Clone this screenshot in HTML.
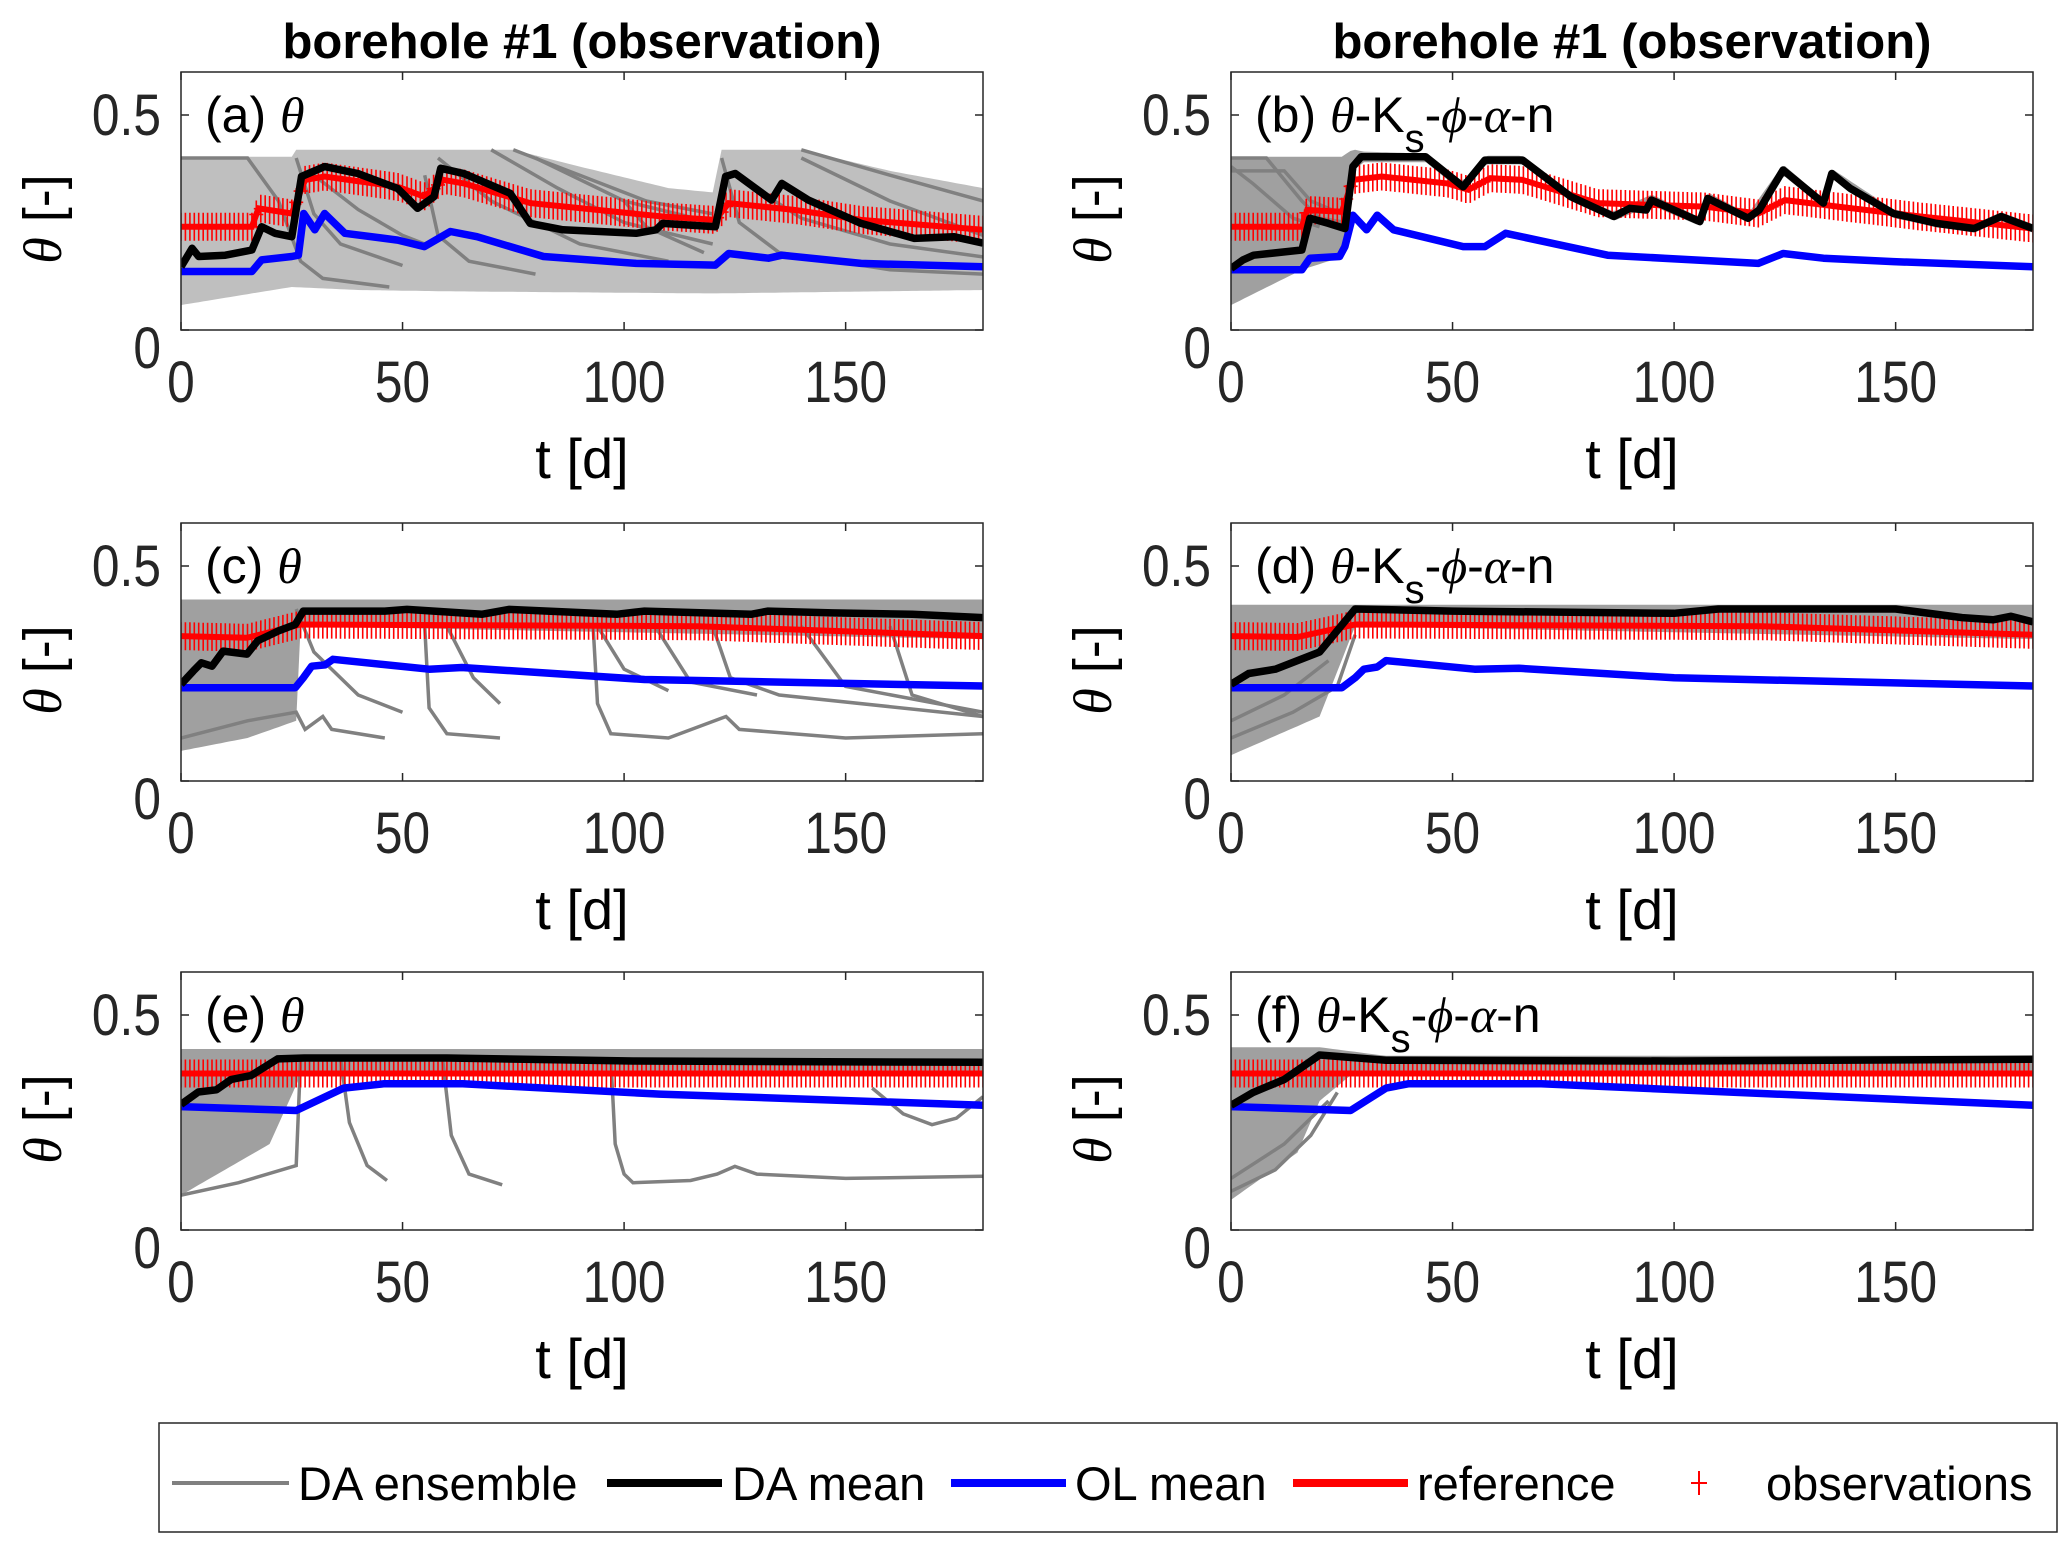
<!DOCTYPE html>
<html><head><meta charset="utf-8"><style>
html,body{margin:0;padding:0;background:#fff}
svg{display:block;font-family:"Liberation Sans",Arial,sans-serif}
</style></head><body>
<svg id="fig" width="2067" height="1548" viewBox="0 0 2067 1548" xmlns="http://www.w3.org/2000/svg"></svg>
<script>
// ---- data (day, theta) ----
const aEnsUpper=[[0,.403],[25,.403],[26,.419],[75,.419],[90,.38],[110,.33],[120,.32],[122,.419],[140,.419],[160,.37],[181,.33]];
const aEnsLower=[[0,.058],[16,.085],[25,.10],[40,.093],[60,.09],[120,.085],[181,.093]];
const aMembers=[
 [[0,.40],[15,.40],[22,.30],[27,.16],[32,.12],[47,.10]],
 [[26,.40],[30,.27],[36,.20],[50,.15]],
 [[55,.36],[58,.22],[65,.16],[80,.13]],
 [[58,.40],[70,.30],[90,.20],[110,.16]],
 [[75,.419],[90,.36],[105,.30],[120,.27]],
 [[70,.419],[85,.33],[100,.25],[120,.20]],
 [[80,.40],[100,.30],[120,.25]],
 [[122,.40],[126,.25],[135,.18],[160,.14],[181,.13]],
 [[140,.419],[160,.36],[181,.30]],
 [[140,.40],[160,.30],[181,.22]],
 [[100,.30],[105,.24],[118,.18]],
 [[30,.36],[40,.28],[50,.22],[55,.20]],
 [[125,.36],[140,.26],[160,.20],[181,.17]]];
const aDaMean=[[0,.147],[2.5,.19],[4,.171],[10,.174],[16,.186],[18.2,.24],[21.2,.225],[25,.217],[27.2,.357],[32.4,.38],[39.9,.364],[48.9,.329],[53.4,.283],[57.1,.31],[58.6,.376],[63.8,.364],[74.3,.318],[78.8,.248],[86.2,.233],[102.7,.225],[107.2,.233],[108.7,.248],[120.6,.24],[122.9,.357],[125.1,.364],[133.3,.302],[135.6,.341],[141.6,.302],[153.5,.248],[165.5,.213],[174.4,.217],[181,.202]];
const aOlMean=[[0,.136],[16,.136],[18.2,.163],[25,.171],[26.5,.174],[27.7,.271],[30.2,.233],[32.4,.271],[37,.225],[48.9,.209],[54.9,.194],[60.8,.229],[66.8,.217],[81.8,.171],[102.7,.155],[120.6,.151],[123.6,.178],[132.6,.167],[135.6,.174],[153.5,.155],[181,.147]];
const aRef=[[0,.24],[16,.24],[17.5,.283],[25,.271],[28,.349],[32.4,.357],[48.9,.333],[54.9,.31],[59.3,.349],[63.8,.341],[78.8,.295],[108.7,.264],[120.6,.256],[123.6,.295],[138.6,.279],[153.5,.256],[181,.233]];

const bEnsUpper=[[0,.403],[25,.403],[27.5,.42],[30,.415],[44,.41],[52.4,.345],[57.3,.405],[65.8,.405],[76.7,.32],[86.4,.275],[94.9,.315],[105.8,.262],[107.6,.32],[116.7,.27],[124.6,.385],[133.7,.305],[135.6,.375],[149.5,.28],[167.7,.246],[173.8,.274],[181,.246]];
const bEnsLower=[[0,.058],[16,.14],[25,.17],[27.5,.37],[30,.39],[44,.39],[52.4,.32],[57.3,.385],[65.8,.385],[76.7,.30],[86.4,.254],[94.9,.29],[105.8,.242],[107.6,.295],[116.7,.25],[124.6,.36],[133.7,.285],[135.6,.352],[149.5,.26],[167.7,.226],[173.8,.254],[181,.226]];
const bMembers=[
 [[0,.40],[8,.40],[16,.30],[20,.26],[26,.25]],
 [[0,.37],[12,.37],[18,.30],[25,.27]],
 [[0,.38],[5,.34],[14,.26],[20,.24]]];
const bDaMean=[[0,.143],[2.7,.163],[5.1,.174],[16,.186],[17.8,.26],[22,.248],[25.7,.236],[27.5,.38],[29.4,.403],[43.9,.403],[52.4,.333],[57.3,.395],[65.8,.395],[76.7,.31],[86.4,.264],[90,.283],[93.7,.279],[94.9,.302],[105.8,.252],[107.6,.306],[116.7,.26],[119.2,.279],[124.6,.372],[133.7,.295],[135.6,.364],[139.8,.329],[149.5,.271],[159.2,.248],[167.7,.236],[173.8,.264],[181,.236]];
const bOlMean=[[0,.14],[16,.14],[17.8,.167],[24.5,.171],[25.7,.194],[27.5,.267],[30.6,.233],[33,.267],[36.7,.233],[52.4,.194],[57.3,.194],[62,.225],[85,.174],[119,.155],[124.6,.178],[133.7,.167],[149.5,.159],[181,.147]];
const bRef=[[0,.24],[16,.24],[17.2,.279],[25,.275],[27.5,.349],[34,.357],[48.8,.341],[53.6,.326],[58.5,.353],[65.8,.349],[82.8,.295],[107,.287],[119,.271],[125,.302],[137,.287],[155.6,.264],[181,.236]];

const cEnsUpper=[[0,.422],[181,.422]];
const cEnsLower=[[0,.07],[15,.10],[26,.14],[27,.36],[181,.33]];
const cMembers=[
 [[0,.10],[15,.14],[26,.16],[28,.12],[32,.15],[34,.12],[46,.10]],
 [[26,.40],[30,.30],[40,.20],[50,.16]],
 [[55,.36],[56,.17],[60,.11],[72,.10]],
 [[60,.36],[66,.24],[72,.18]],
 [[93,.36],[94,.18],[97,.11],[110,.10],[123,.15],[126,.12],[150,.10],[181,.11]],
 [[94,.36],[100,.26],[110,.21]],
 [[107,.36],[115,.23],[130,.20]],
 [[120,.36],[124,.24],[135,.20],[181,.15]],
 [[140,.36],[150,.22],[181,.16]],
 [[160,.36],[165,.20],[181,.15]]];
const cDaMean=[[0,.225],[2.8,.256],[4.6,.275],[7,.267],[9.5,.302],[14.9,.295],[17.3,.326],[22,.349],[25.8,.364],[27.6,.395],[46,.395],[51,.399],[68,.388],[74,.399],[98.5,.388],[104.6,.395],[128.8,.388],[132.5,.395],[147,.391],[165,.388],[181,.38]];
const cOlMean=[[0,.217],[25.8,.217],[27.6,.24],[29.5,.267],[32.5,.27],[34.3,.283],[56,.26],[63.4,.264],[104.6,.236],[181,.221]];
const cRef=[[0,.337],[14.9,.333],[27,.364],[116.7,.36],[181,.337]];

const dEnsUpper=[[0,.41],[181,.41]];
const dEnsLower=[[0,.06],[20,.15],[28,.36],[181,.33]];
const dMembers=[[[0,.10],[14,.16],[24,.22],[28,.34]],[[0,.14],[12,.20],[22,.28]]];
const dDaMean=[[0,.225],[4,.25],[10,.26],[20,.30],[28,.40],[50,.395],[100,.39],[110,.40],[150,.40],[165,.38],[172,.375],[176,.383],[181,.37]];
const dOlMean=[[0,.217],[25,.217],[28,.24],[30,.26],[33,.265],[35,.28],[55,.26],[65,.262],[100,.24],[181,.221]];
const dRef=[[0,.337],[15,.335],[28,.364],[120,.36],[181,.34]];

const eEnsUpper=[[0,.421],[181,.421]];
const eEnsLower=[[0,.081],[20,.20],[27,.36],[181,.36]];
const eMembers=[
 [[0,.081],[13,.11],[26,.15],[27,.40]],
 [[36,.40],[38,.25],[42,.15],[46.5,.115]],
 [[59,.40],[61,.22],[65,.13],[72.5,.105]],
 [[97,.40],[98,.20],[100,.13],[102,.11],[115,.115],[121,.13],[125,.148],[130,.13],[150,.12],[181,.125]],
 [[156,.33],[163,.27],[169.5,.245],[175,.26],[181,.31]]];
const eDaMean=[[0,.292],[3.9,.321],[8,.326],[11.3,.35],[15.8,.359],[21.8,.398],[27.8,.40],[60,.40],[102,.393],[181,.39]];
const eOlMean=[[0,.287],[26,.278],[36.7,.33],[45.7,.34],[63.6,.34],[108,.316],[181,.29]];
const eRef=[[0,.364],[181,.364]];

const fEnsUpper=[[0,.425],[20,.425],[35,.405],[181,.405]];
const fEnsLower=[[0,.07],[15,.18],[20,.30],[27,.36],[181,.36]];
const fMembers=[[[0,.09],[10,.14],[18,.22],[24,.32]],[[0,.12],[12,.2],[22,.3]]];
const fDaMean=[[0,.29],[5,.32],[12,.35],[20,.407],[35,.395],[100,.393],[181,.397]];
const fOlMean=[[0,.287],[27,.278],[35,.33],[40,.34],[70,.34],[181,.29]];
const fRef=[[0,.364],[181,.364]];

const xTicks=[0,50,100,150];
const yTicks=[0,0.5];
const yTickLabels=["0","0.5"];

// ---- drawing ----
const NS="http://www.w3.org/2000/svg";
const svg=document.getElementById('fig');
function mk(tag,attrs,parent){const e=document.createElementNS(NS,tag);for(const k in attrs)e.setAttribute(k,attrs[k]);(parent||svg).appendChild(e);return e;}
const XMAX=181,YMAX=0.6,W=802,H=258;
function interp(arr,d){for(let i=1;i<arr.length;i++){if(d<=arr[i][0]){const a=arr[i-1],b=arr[i];const t=(d-a[0])/((b[0]-a[0])||1);return a[1]+t*(b[1]-a[1]);}}return arr[arr.length-1][1];}

const panels=[
 {id:'a',L:181,T:72,label:'θ',op:0.5,eu:aEnsUpper,el:aEnsLower,m:aMembers,da:aDaMean,ol:aOlMean,ref:aRef,title:true},
 {id:'b',L:1231,T:72,label:'full',op:0.75,eu:bEnsUpper,el:bEnsLower,m:bMembers,da:bDaMean,ol:bOlMean,ref:bRef,title:true},
 {id:'c',L:181,T:523,label:'θ',op:0.75,eu:cEnsUpper,el:cEnsLower,m:cMembers,da:cDaMean,ol:cOlMean,ref:cRef},
 {id:'d',L:1231,T:523,label:'full',op:0.75,eu:dEnsUpper,el:dEnsLower,m:dMembers,da:dDaMean,ol:dOlMean,ref:dRef},
 {id:'e',L:181,T:972,label:'θ',op:0.75,eu:eEnsUpper,el:eEnsLower,m:eMembers,da:eDaMean,ol:eOlMean,ref:eRef},
 {id:'f',L:1231,T:972,label:'full',op:0.75,eu:fEnsUpper,el:fEnsLower,m:fMembers,da:fDaMean,ol:fOlMean,ref:fRef}];

panels.forEach(p=>{
 const B=p.T+H;
 const xs=d=>p.L+d*W/XMAX, ys=v=>B-v*H/YMAX;
 const g=mk('g',{});
 
 
 const cid='clip'+p.id;
 const cp=mk('clipPath',{id:cid},g);mk('rect',{x:p.L,y:p.T,width:W,height:H},cp);
 const pl=mk('g',{'clip-path':'url(#'+cid+')'},g);
 const path=a=>a.map((q,i)=>(i?'L':'M')+xs(q[0]).toFixed(1)+' '+ys(q[1]).toFixed(1)).join(' ');
 const band=[];for(let d=0;d<=XMAX;d+=1)band.push([d,interp(p.eu,d)]);
 const low=[];for(let d=XMAX;d>=0;d-=1)low.push([d,interp(p.el,d)]);
 const bandEl=mk('path',{d:path(band)+' '+low.map(q=>'L'+xs(q[0]).toFixed(1)+' '+ys(q[1]).toFixed(1)).join(' ')+'Z',fill:'#808080','fill-opacity':p.op},pl);
 
 
 p.m.forEach((mm,i)=>{const e=mk('path',{d:path(mm),fill:'none',stroke:'#808080','stroke-width':3.5},pl);
  
  });
 const og=mk('g',{stroke:'#ff0000','stroke-width':1.6},pl);
 
 
 for(let d=0;d<=XMAX;d+=1){const x=xs(d),y=ys(interp(p.ref,d));
  mk('path',{d:`M${x.toFixed(1)} ${(y-14).toFixed(1)}V${(y+14).toFixed(1)}M${(x-7).toFixed(1)} ${y.toFixed(1)}H${(x+7).toFixed(1)}`},og);}
 const r=mk('path',{d:path(p.ref),fill:'none',stroke:'#ff0000','stroke-width':6},pl);
 
 const o=mk('path',{d:path(p.ol),fill:'none',stroke:'#0000ff','stroke-width':7.5,'stroke-linejoin':'round'},pl);
 
 const da=mk('path',{d:path(p.da),fill:'none',stroke:'#000','stroke-width':7.5,'stroke-linejoin':'round'},pl);
 
 const ax=mk('rect',{x:p.L,y:p.T,width:W,height:H,fill:'none',stroke:'#262626','stroke-width':1.5},g);
 
 xTicks.forEach(t=>{const x=xs(t);
  mk('path',{d:`M${x} ${B}v-8M${x} ${p.T}v8`,stroke:'#262626','stroke-width':1.5},g);
  const tx=mk('text',{x:x,y:B+72,'text-anchor':'middle','font-size':54,fill:'#262626',transform:`translate(${x} ${B+72}) scale(0.92 1.08) translate(${-x} ${-(B+72)})`},g);tx.textContent=t;
  });
 yTicks.forEach((t,i)=>{const y=ys(t);
  mk('path',{d:`M${p.L} ${y}h8M${p.L+W} ${y}h-8`,stroke:'#262626','stroke-width':1.5},g);
  const yy=y+(t===0?38:20);
  const tx=mk('text',{x:p.L-20,y:yy,'text-anchor':'end','font-size':54,fill:'#262626',transform:`translate(${p.L-20} ${yy}) scale(0.92 1.08) translate(${-(p.L-20)} ${-yy})`},g);tx.textContent=yTickLabels[i];
  });
 const xl=mk('text',{x:p.L+W/2,y:B+148,'text-anchor':'middle','font-size':56,fill:'#000'},g);xl.textContent='t [d]';
 
 const cy=p.T+H/2;
 const yl=mk('text',{x:p.L-138,y:cy,'text-anchor':'middle','font-size':54,fill:'#000',transform:`rotate(-90 ${p.L-120} ${cy})`},g);
 yl.innerHTML='<tspan font-style="italic" font-family="Liberation Serif,serif">θ</tspan> [-]';
 
 const pt=mk('text',{x:p.L+24,y:p.T+60,'font-size':50,fill:'#000'},g);
 if(p.label==='full') pt.innerHTML=`(${p.id}) <tspan font-style="italic" font-family="Liberation Serif,serif">θ</tspan>-K<tspan dy="20" font-size="40">s</tspan><tspan dy="-20">-</tspan><tspan font-style="italic" font-family="Liberation Serif,serif">ϕ</tspan>-<tspan font-style="italic" font-family="Liberation Serif,serif">α</tspan>-n`;
 else pt.innerHTML=`(${p.id}) <tspan font-style="italic" font-family="Liberation Serif,serif">θ</tspan>`;
 
 if(p.title){const t=mk('text',{x:p.L+W/2,y:58,'text-anchor':'middle','font-size':49,'font-weight':'bold',fill:'#000'},g);
  t.textContent='borehole #1 (observation)';
  }
});

const lg=mk('g',{});


mk('rect',{x:159,y:1423,width:1898,height:109,fill:'#fff',stroke:'#262626','stroke-width':1.5},lg);
const items=[['#808080',4,172,289,'DA ensemble',298,'legend-entry-da-ensemble'],['#000',8,607,722,'DA mean',732,'legend-entry-da-mean'],['#0000ff',8,951,1066,'OL mean',1075,'legend-entry-ol-mean'],['#ff0000',8,1293,1408,'reference',1417,'legend-entry-reference']];
items.forEach(it=>{const gi=mk('g',{},lg);
 
 mk('line',{x1:it[2],x2:it[3],y1:1483,y2:1483,stroke:it[0],'stroke-width':it[1]},gi);
 const t=mk('text',{x:it[5],y:1500,'font-size':47,fill:'#000'},gi);t.textContent=it[4];});
const go=mk('g',{},lg);


mk('path',{d:'M1699 1471V1495M1691 1483H1707',stroke:'#ff0000','stroke-width':2},go);
const tob=mk('text',{x:1766,y:1500,'font-size':47,fill:'#000'},go);tob.textContent='observations';
</script>
</body></html>
